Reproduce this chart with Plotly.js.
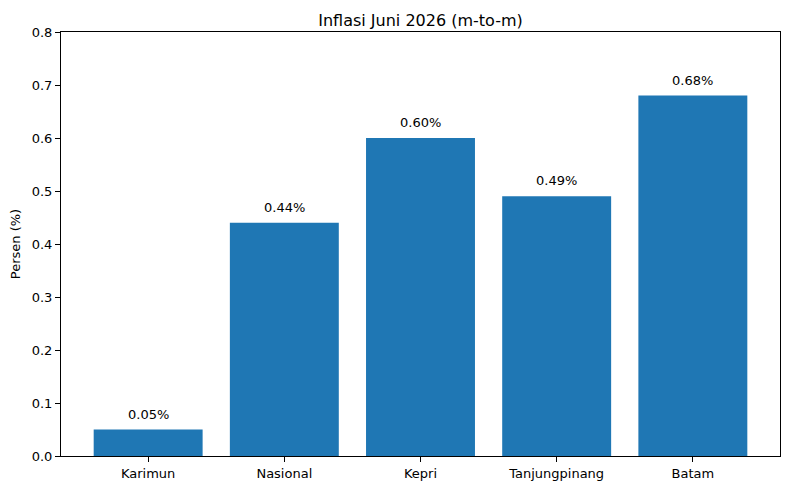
<!DOCTYPE html>
<html>
<head>
<meta charset="utf-8">
<script src="https://cdn.plot.ly/plotly-3.0.1.min.js"></script>
<style>html,body{margin:0;padding:0;background:#fff;}#chart{width:790px;height:490px;}</style>
</head>
<body>
<div id="chart"></div>
<script>
const categories = ["Karimun", "Nasional", "Kepri", "Tanjungpinang", "Batam"];
const values = [0.05, 0.44, 0.60, 0.49, 0.68];
const labels = ["0.05%", "0.44%", "0.60%", "0.49%", "0.68%"];
const yTicks = [0, 0.1, 0.2, 0.3, 0.4, 0.5, 0.6, 0.7, 0.8];

const font = "DejaVu Sans, sans-serif";
const trace = {
  type: "bar",
  x: categories.map((c, i) => i),
  y: values,
  width: 0.8,
  marker: {color: "#1f77b4"},
  hoverinfo: "none"
};
const annotations = values.map((v, i) => ({
  x: i, y: v, xref: "x", yref: "y",
  text: labels[i], showarrow: false,
  yanchor: "bottom", yshift: 6,
  font: {family: font, size: 13, color: "#000"}
}));
const layout = {
  width: 790, height: 490,
  margin: {l: 61, r: 10, t: 32, b: 34},
  paper_bgcolor: "#fff", plot_bgcolor: "#fff",
  font: {family: font, size: 13, color: "#000"},
  title: {text: "Inflasi Juni 2026 (m-to-m)", x: 0.5, xref: "paper", y: 1, yref: "paper", yanchor: "bottom", pad: {b: 6}, font: {family: font, size: 16, color: "#000"}},
  showlegend: false,
  bargap: 0.2,
  xaxis: {
    range: [-0.64, 4.64],
    tickmode: "array", tickvals: categories.map((c, i) => i), ticktext: categories,
    showgrid: false, zeroline: false,
    showline: true, mirror: true, linecolor: "#000", linewidth: 1,
    ticks: "outside", ticklen: 5, tickcolor: "#000",
    tickfont: {family: font, size: 13, color: "#000"}
  },
  yaxis: {
    range: [0, 0.8],
    tickmode: "array", tickvals: yTicks, ticktext: yTicks.map(v => v.toFixed(1)),
    showgrid: false, zeroline: false,
    showline: true, mirror: true, linecolor: "#000", linewidth: 1,
    ticks: "outside", ticklen: 5, tickcolor: "#000",
    tickfont: {family: font, size: 13, color: "#000"},
    title: {text: "Persen (%)", font: {family: font, size: 13, color: "#000"}, standoff: 8}
  },
  annotations: annotations
};
Plotly.newPlot("chart", [trace], layout, {displayModeBar: false, staticPlot: true});
</script>
</body>
</html>
